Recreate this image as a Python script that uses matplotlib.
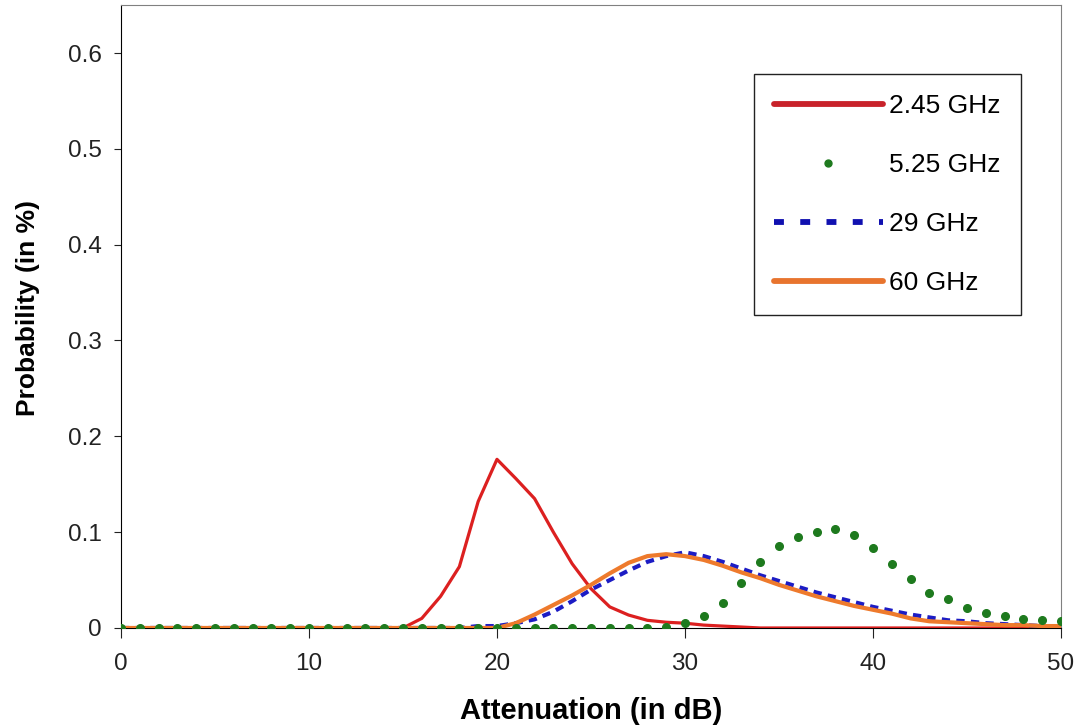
import numpy as np
import matplotlib.pyplot as plt
from matplotlib.lines import Line2D

plt.rcParams['font.family'] = ['Liberation Sans', 'DejaVu Sans']

# Attenuation axis (dB), one sample per dB
atten = np.arange(0, 51)

# Probability values (in %)
p_245 = np.zeros(51)
p_245[15:35] = [0.0, 0.010, 0.033, 0.064, 0.132, 0.176, 0.156, 0.135, 0.100, 0.067,
                0.041, 0.022, 0.0135, 0.008, 0.006, 0.005, 0.003, 0.002, 0.001, 0.0]

p_525 = np.zeros(51)
p_525[29:51] = [0.001, 0.005, 0.012, 0.026, 0.047, 0.069, 0.086, 0.095, 0.1, 0.103,
                0.097, 0.083, 0.067, 0.051, 0.037, 0.03, 0.021, 0.016, 0.012, 0.009,
                0.008, 0.007]

p_29 = np.zeros(51)
p_29[18:51] = [0.0, 0.002, 0.002, 0.005, 0.009, 0.017, 0.028, 0.040, 0.050, 0.060,
               0.069, 0.075, 0.079, 0.075, 0.069, 0.062, 0.055, 0.049, 0.043, 0.037,
               0.032, 0.027, 0.022, 0.018, 0.014, 0.011, 0.008, 0.007, 0.005, 0.004,
               0.003, 0.002, 0.001]

p_60 = np.zeros(51)
p_60[20:51] = [0.0, 0.005, 0.014, 0.024, 0.034, 0.045, 0.057, 0.068, 0.075, 0.077,
               0.075, 0.071, 0.065, 0.058, 0.052, 0.045, 0.039, 0.033, 0.028, 0.023,
               0.019, 0.015, 0.01, 0.007, 0.006, 0.005, 0.004, 0.003, 0.003, 0.002,
               0.002]

labels = ['2.45 GHz', '5.25 GHz', '29 GHz', '60 GHz']
x_ticks = [0, 10, 20, 30, 40, 50]
y_ticks = [0, 0.1, 0.2, 0.3, 0.4, 0.5, 0.6]
y_tick_labels = ['0', '0.1', '0.2', '0.3', '0.4', '0.5', '0.6']

red = '#dc2020'
green = '#1e7a1e'
blue = '#1c1cc4'
orange = '#ee7a2c'

fig = plt.figure(figsize=(10.8, 7.27), dpi=100)
ax = fig.add_axes([0.112, 0.1362, 0.8704, 0.8568])

ax.plot(atten, p_245, color=red, lw=2.3, zorder=3)
ax.plot(atten, p_525, ls='none', marker='o', ms=5.5, color=green, zorder=5)
ax.plot(atten, p_29, color=blue, lw=3, ls=(0, (2.0, 1.5)), zorder=3)
ax.plot(atten, p_60, color=orange, lw=3, zorder=4)

ax.set_xlim(0, 50)
ax.set_ylim(0, 0.65)
ax.set_xticks(x_ticks)
ax.set_yticks(y_ticks)
ax.set_yticklabels(y_tick_labels)
ax.tick_params(axis='both', direction='out', labelsize=17.5, colors='#222222')
ax.tick_params(axis='x', length=7, pad=11)
ax.tick_params(axis='y', length=5, pad=9)

ax.spines['top'].set_color('#808080')
ax.spines['right'].set_color('#808080')
for side in ['left', 'bottom']:
    ax.spines[side].set_color('black')

ax.set_xlabel('Attenuation (in dB)', fontsize=21, fontweight='bold', labelpad=16)
ax.set_ylabel('Probability (in %)', fontsize=19, fontweight='bold')
ax.yaxis.set_label_coords(-0.086, 0.514)

# legend handles are drawn thicker than the plotted lines
handles = [
    Line2D([], [], color='#c8222a', lw=4.2, solid_capstyle='round'),
    Line2D([], [], ls='none', marker='o', ms=5, color=green),
    Line2D([], [], color='#1010b0', lw=4.2, ls=(0, (1.7, 2.8))),
    Line2D([], [], color='#e8742e', lw=4.2, solid_capstyle='round'),
]
leg = ax.legend(handles, labels, loc='upper right', bbox_to_anchor=(0.957, 0.889),
                borderaxespad=0, fontsize=19, numpoints=1, handlelength=4.15,
                handletextpad=0.23, labelspacing=1.33, borderpad=0.75,
                fancybox=False, framealpha=1, edgecolor='#222222')
leg.get_frame().set_linewidth(1.0)

fig.savefig('out.png', dpi=100)
